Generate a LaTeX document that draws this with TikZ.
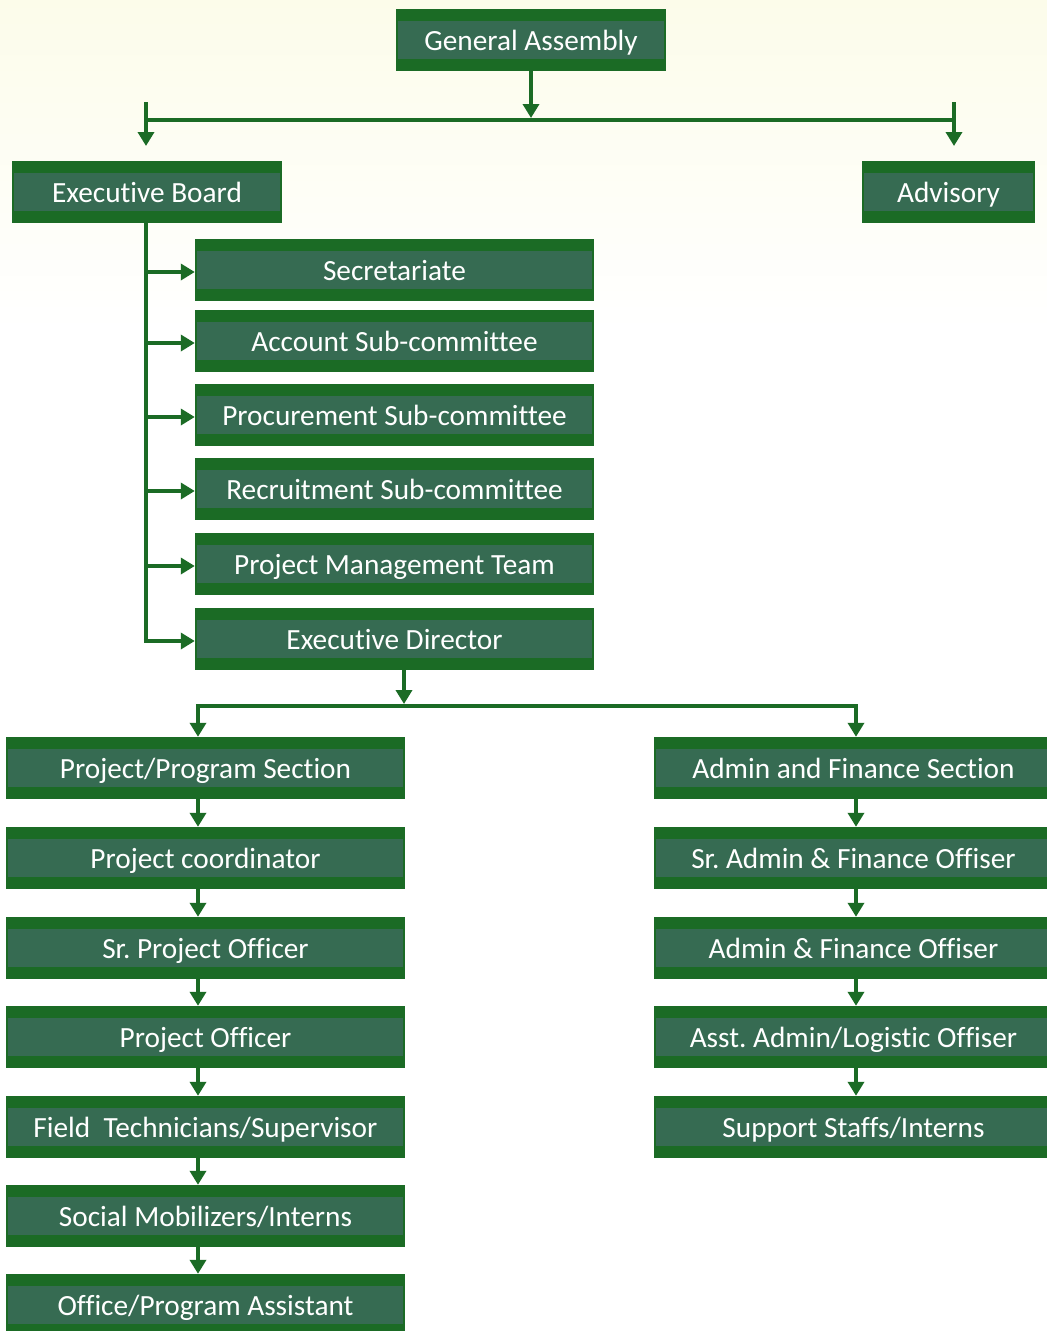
\documentclass[tikz,border=0pt]{standalone}
\usepackage{fontspec}
\setmainfont{Carlito}[Ligatures=NoCommon]
\frenchspacing
\usetikzlibrary{arrows.meta}
\definecolor{outerg}{HTML}{1B6B25}
\definecolor{innerg}{HTML}{366B52}
\definecolor{cream}{RGB}{252,252,234}
\tikzset{
  box/.style={draw=none, fill=outerg, minimum height=62pt, inner sep=0pt,
    text=white, font=\fontsize{29.3}{34}\selectfont\frenchspacing, text height=20pt, text depth=0pt,
    path picture={\fill[innerg] ([xshift=2pt,yshift=-12pt]path picture bounding box.north west) rectangle ([xshift=-2pt,yshift=12pt]path picture bounding box.south east);}},
  conn/.style={draw=outerg, line width=4.5pt},
  arr/.style={conn, -{Triangle[width=16pt,length=14pt]}},
}
\begin{document}
\begin{tikzpicture}[x=1pt,y=-1pt]
\clip (0,0) rectangle (1047,1331);
\fill[white] (0,0) rectangle (1047,1331);
\shade[top color=cream, bottom color=white] (0,0) rectangle (1047,330);
% top
\node[box, minimum width=270pt] (ga) at (531,40) {General Assembly};
\node[box, minimum width=270pt] (eb) at (147,192) {Executive Board};
\node[box, minimum width=173pt] (adv) at (948.5,192) {Advisory};
% committees
\node[box, minimum width=399pt] (sec) at (394.5,270) {Secretariate};
\node[box, minimum width=399pt] (acc) at (394.5,341) {Account Sub-committee};
\node[box, minimum width=399pt] (proc) at (394.5,415) {Procurement Sub-committee};
\node[box, minimum width=399pt] (recr) at (394.5,489) {Recruitment Sub-committee};
\node[box, minimum width=399pt] (pmt) at (394.5,564) {Project Management Team};
\node[box, minimum width=399pt] (ed) at (394.5,639) {Executive Director};
% left column
\node[box, minimum width=399pt] (l1) at (205.5,768) {Project/Program Section};
\node[box, minimum width=399pt] (l2) at (205.5,858) {Project coordinator};
\node[box, minimum width=399pt] (l3) at (205.5,948) {Sr. Project Officer};
\node[box, minimum width=399pt] (l4) at (205.5,1037) {Project Officer};
\node[box, minimum width=399pt] (l5) at (205.5,1127) {Field\ \ Technicians/Supervisor};
\node[box, minimum width=399pt] (l6) at (205.5,1216) {Social Mobilizers/Interns};
\node[box, minimum width=399pt] (l7) at (205.5,1305) {Office/Program Assistant};
% right column
\node[box, minimum width=399pt] (r1) at (853.5,768) {Admin and Finance Section};
\node[box, minimum width=399pt] (r2) at (853.5,858) {Sr. Admin \& Finance Offiser};
\node[box, minimum width=399pt] (r3) at (853.5,948) {Admin \& Finance Offiser};
\node[box, minimum width=399pt] (r4) at (853.5,1037) {Asst. Admin/Logistic Offiser};
\node[box, minimum width=399pt] (r5) at (853.5,1127) {Support Staffs/Interns};
% coordinates
\coordinate (hub) at (531,118);
\coordinate (barL) at (146,120);
\coordinate (barR) at (954,120);
\coordinate (lTop) at (146,102);
\coordinate (lTip) at (146,146);
\coordinate (rTop) at (954,102);
\coordinate (rTip) at (954,146);
\coordinate (edhub) at (404,704);
\coordinate (edL) at (198,706);
\coordinate (edR) at (856,706);
\coordinate (lx) at (198,0);
\coordinate (rx) at (856,0);
% connectors top
\draw[arr] (ga.south -| hub) -- (hub);
\draw[conn] (barL) -- (barR);
\draw[arr] (lTop) -- (lTip);
\draw[arr] (rTop) -- (rTip);
% executive board
\draw[conn] (eb.south -| lTop) -- ([yshift=-2pt]ed.west -| lTop);
\draw[arr] ([yshift=-2pt]sec.west -| lTop) -- ([yshift=-2pt]sec.west);
\draw[arr] ([yshift=-2pt]acc.west -| lTop) -- ([yshift=-2pt]acc.west);
\draw[arr] ([yshift=-2pt]proc.west -| lTop) -- ([yshift=-2pt]proc.west);
\draw[arr] ([yshift=-2pt]recr.west -| lTop) -- ([yshift=-2pt]recr.west);
\draw[arr] ([yshift=-2pt]pmt.west -| lTop) -- ([yshift=-2pt]pmt.west);
\draw[arr] ([yshift=-2pt,xshift=-2.25pt]ed.west -| lTop) -- ([yshift=-2pt]ed.west);
% executive director
\draw[arr] (ed.south -| edhub) -- (edhub);
\draw[conn] ([xshift=-2.25pt]edL) -- ([xshift=2.25pt]edR);
\draw[arr] (edL) -- (l1.north -| edL);
\draw[arr] (edR) -- (r1.north -| edR);
% columns
\draw[arr] (l1.south -| lx) -- (l2.north -| lx);
\draw[arr] (l2.south -| lx) -- (l3.north -| lx);
\draw[arr] (l3.south -| lx) -- (l4.north -| lx);
\draw[arr] (l4.south -| lx) -- (l5.north -| lx);
\draw[arr] (l5.south -| lx) -- (l6.north -| lx);
\draw[arr] (l6.south -| lx) -- (l7.north -| lx);
\draw[arr] (r1.south -| rx) -- (r2.north -| rx);
\draw[arr] (r2.south -| rx) -- (r3.north -| rx);
\draw[arr] (r3.south -| rx) -- (r4.north -| rx);
\draw[arr] (r4.south -| rx) -- (r5.north -| rx);
\end{tikzpicture}
\end{document}
